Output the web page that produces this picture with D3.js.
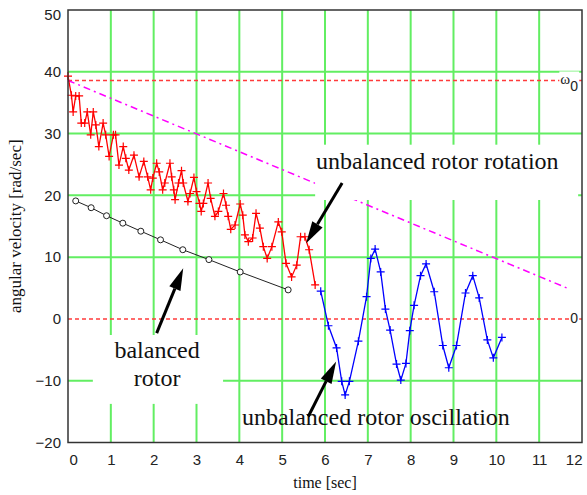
<!DOCTYPE html>
<html>
<head>
<meta charset="utf-8">
<script src="https://cdn.jsdelivr.net/npm/d3@7"></script>
<style>
  body { margin: 0; background: #fff; }
  svg { display: block; }
</style>
</head>
<body>
<script>
const width = 587,
  height = 495;
const margin = { top: 10, right: 5, bottom: 52.5, left: 68 };

// tick values
const xTicks = [0, 1, 2, 3, 4, 5, 6, 7, 8, 9, 10, 11, 12];
const yTicks = [-20, -10, 0, 10, 20, 30, 40, 50];
const yGrid = [-10, 10, 20, 30, 40];

// balanced rotor
const balT = [0.18, 0.54, 0.9, 1.28, 1.7, 2.16, 2.68, 3.29, 4.02, 5.14];
const balV = [19.1, 18.0, 16.7, 15.5, 14.2, 12.8, 11.2, 9.6, 7.6, 4.7];

// unbalanced rotor, rotation phase
const rotT = [0.0, 0.08, 0.12, 0.18, 0.26, 0.31, 0.39, 0.45, 0.53, 0.59, 0.65, 0.72,
  0.82, 0.88, 0.96, 1.06, 1.11, 1.19, 1.29, 1.35, 1.42, 1.54, 1.66, 1.77, 1.86, 1.93,
  1.98, 2.07, 2.13, 2.21, 2.26, 2.38, 2.42, 2.47, 2.5, 2.58, 2.65, 2.69, 2.8, 2.85,
  2.94, 3.0, 3.07, 3.11, 3.16, 3.27, 3.33, 3.43, 3.51, 3.63, 3.69, 3.74, 3.8, 3.9,
  4.02, 4.08, 4.13, 4.21, 4.31, 4.39, 4.48, 4.56, 4.65, 4.76, 4.91, 4.99, 5.09, 5.22,
  5.34, 5.43, 5.53, 5.63, 5.77];
const rotV = [39.3, 36.2, 33.5, 36.1, 36.1, 31.7, 31.7, 33.5, 29.8, 33.5, 31.4, 27.9,
  31.7, 29.8, 26.3, 29.8, 29.8, 24.9, 27.9, 26.0, 24.1, 26.5, 23.0, 25.5, 23.0, 20.9,
  22.8, 25.2, 23.8, 20.9, 22.0, 25.2, 23.0, 20.9, 19.3, 22.0, 24.0, 22.0, 19.0, 20.3,
  22.9, 20.6, 18.7, 17.4, 18.7, 22.0, 19.5, 16.6, 17.4, 20.3, 18.4, 16.6, 14.5, 15.2,
  18.6, 16.8, 13.6, 12.5, 13.1, 17.1, 14.7, 11.7, 9.8, 11.7, 15.7, 14.1, 9.0, 6.8,
  8.7, 13.3, 13.3, 11.2, 5.5];

// unbalanced rotor, oscillation phase
const oscT = [5.9, 6.08, 6.27, 6.39, 6.47, 6.57, 6.78, 6.97, 7.07, 7.17, 7.3, 7.41,
  7.52, 7.67, 7.77, 7.89, 7.98, 8.08, 8.23, 8.36, 8.55, 8.75, 8.89, 9.07, 9.28, 9.45,
  9.6, 9.79, 9.93, 10.13];
const oscV = [4.5, -1.1, -4.7, -10.1, -12.3, -10.1, -3.6, 3.6, 9.8, 11.3, 7.6, 1.6,
  -1.8, -7.3, -9.9, -7.2, -1.9, 2.2, 7.0, 8.9, 4.4, -4.3, -7.9, -4.3, 4.2, 7.0,
  3.4, -3.4, -6.3, -3.0];

// decay line and reference levels
const decayT = [0, 11.65];
const decayV = [38.6, 5.0];
const omega0 = 38.6;

const x = d3.scaleLinear().domain([0, 12]).range([margin.left, width - margin.right]);
const y = d3.scaleLinear().domain([-20, 50]).range([height - margin.bottom, margin.top]);

const svg = d3.select("body").append("svg")
  .attr("width", width)
  .attr("height", height);

// grid
svg.append("g").selectAll("line")
  .data(xTicks.slice(1, -1))
  .join("line")
  .attr("x1", d => x(d)).attr("x2", d => x(d))
  .attr("y1", y(50)).attr("y2", y(-20))
  .attr("stroke", "#62ee62").attr("stroke-width", 2);
svg.append("g").selectAll("line")
  .data(yGrid)
  .join("line")
  .attr("x1", x(0)).attr("x2", x(12))
  .attr("y1", d => y(d)).attr("y2", d => y(d))
  .attr("stroke", "#62ee62").attr("stroke-width", 2);

// red dashed levels
svg.append("g").selectAll("line")
  .data([omega0, 0])
  .join("line")
  .attr("x1", x(0)).attr("x2", x(12))
  .attr("y1", d => y(d)).attr("y2", d => y(d))
  .attr("stroke", "#ff3b3b").attr("stroke-width", 1.5)
  .attr("stroke-dasharray", "4,3");

// magenta decay line
svg.append("line")
  .attr("x1", x(decayT[0])).attr("y1", y(decayV[0]))
  .attr("x2", x(decayT[1])).attr("y2", y(decayV[1]))
  .attr("stroke", "#ff00ff").attr("stroke-width", 1.5)
  .attr("stroke-dasharray", "7,4,2,4");

const line = d3.line().x(d => x(d[0])).y(d => y(d[1]));
const plus = "M-4,0H4M0,-4V4";

// balanced rotor
const bal = balT.map((t, i) => [t, balV[i]]);
svg.append("path").datum(bal)
  .attr("d", line).attr("fill", "none")
  .attr("stroke", "#222").attr("stroke-width", 1);
svg.append("g").selectAll("circle")
  .data(bal)
  .join("circle")
  .attr("cx", d => x(d[0])).attr("cy", d => y(d[1]))
  .attr("r", 3).attr("fill", "#fff")
  .attr("stroke", "#222").attr("stroke-width", 1);

// unbalanced series
function series(ts, vs, color) {
  const pts = ts.map((t, i) => [t, vs[i]]);
  svg.append("path").datum(pts)
    .attr("d", line).attr("fill", "none")
    .attr("stroke", color).attr("stroke-width", 1.3);
  svg.append("g").selectAll("path")
    .data(pts)
    .join("path")
    .attr("d", plus)
    .attr("transform", d => `translate(${x(d[0])},${y(d[1])})`)
    .attr("stroke", color).attr("stroke-width", 1.2);
}
series(rotT, rotV, "#ff0000");
series(oscT, oscV, "#0000ff");

// annotation boxes and text
const notes = [
  { lines: ["unbalanced rotor rotation"], t: 5.79, v: 24.27, anchor: "start", box: [5.77, 11.91, 28.2, 19.25] },
  { lines: ["balanced", "rotor"], t: 2.08, v: -6.3, anchor: "middle", box: [0.58, 3.62, -2.6, -13.75] },
  { lines: ["unbalanced rotor oscillation"], t: 4.06, v: -17.15, anchor: "start" }
];
notes.forEach(n => {
  if (n.box) {
    svg.append("rect")
      .attr("x", x(n.box[0])).attr("y", y(n.box[2]))
      .attr("width", x(n.box[1]) - x(n.box[0]))
      .attr("height", y(n.box[3]) - y(n.box[2]))
      .attr("fill", "#fff");
  }
  const txt = svg.append("text")
    .attr("x", x(n.t)).attr("y", y(n.v))
    .attr("text-anchor", n.anchor)
    .attr("font-family", "Liberation Serif, Times New Roman, serif")
    .attr("font-size", 24)
    .attr("fill", "#111");
  n.lines.forEach((s, i) => {
    txt.append("tspan").attr("x", x(n.t)).attr("dy", i ? 28 : 0).text(s);
  });
});

// arrows
const arrows = [
  { from: [6.4, 22.0], to: [5.56, 12.25] },
  { from: [2.07, -2.3], to: [2.69, 8.2] },
  { from: [5.61, -15.8], to: [6.26, -6.9] }
];
arrows.forEach(a => {
  const x1 = x(a.from[0]), y1 = y(a.from[1]), x2 = x(a.to[0]), y2 = y(a.to[1]);
  const ang = Math.atan2(y2 - y1, x2 - x1);
  const len = 22, hw = 6;
  const bx = x2 - len * Math.cos(ang), by = y2 - len * Math.sin(ang);
  svg.append("line")
    .attr("x1", x1).attr("y1", y1).attr("x2", bx).attr("y2", by)
    .attr("stroke", "#000").attr("stroke-width", 3);
  svg.append("path")
    .attr("d", `M${x2},${y2}L${bx - hw * Math.sin(ang)},${by + hw * Math.cos(ang)}L${bx + hw * Math.sin(ang)},${by - hw * Math.cos(ang)}Z`)
    .attr("fill", "#000");
});

// level labels at right
function levelLabel(v, main, sub, dy) {
  const g = svg.append("g");
  const t = g.append("text")
    .attr("x", x(12) - 4).attr("y", y(v) + dy)
    .attr("text-anchor", "end")
    .attr("font-family", "Liberation Sans, Arial, sans-serif")
    .attr("font-size", 14).attr("fill", "#222");
  if (main) t.append("tspan").attr("font-family", "Liberation Serif, serif").attr("font-size", 15).text(main);
  t.append("tspan").attr("dy", main ? 7 : 0).text(sub);
  const bb = t.node().getBBox();
  g.insert("rect", "text")
    .attr("x", bb.x - 1).attr("y", bb.y).attr("width", bb.width + 2).attr("height", bb.height)
    .attr("fill", "#fff");
}
levelLabel(omega0, "ω", "0", 4);
levelLabel(0, null, "0", 4);

// frame
svg.append("rect")
  .attr("x", x(0)).attr("y", y(50))
  .attr("width", x(12) - x(0)).attr("height", y(-20) - y(50))
  .attr("fill", "none").attr("stroke", "#333").attr("stroke-width", 1.5);

// axes
const xAxis = svg.append("g")
  .attr("transform", `translate(0,${y(-20)})`)
  .call(d3.axisBottom(x).tickValues(xTicks).tickSize(0).tickPadding(12));
xAxis.select(".domain").remove();
xAxis.selectAll("text")
  .attr("font-family", "Liberation Sans, Arial, sans-serif")
  .attr("font-size", 15).attr("fill", "#222")
  .attr("text-anchor", d => d === 0 ? "start" : d === 12 ? "end" : "middle")
  .attr("dx", d => d === 0 ? 1 : 0);

const yAxis = svg.append("g")
  .attr("transform", `translate(${x(0)},0)`)
  .call(d3.axisLeft(y).tickValues(yTicks).tickSize(0).tickPadding(7));
yAxis.select(".domain").remove();
yAxis.selectAll("text")
  .attr("font-family", "Liberation Sans, Arial, sans-serif")
  .attr("font-size", 15).attr("fill", "#222")
  .attr("dy", d => d === 50 ? "0.6em" : "0.32em");

svg.append("text")
  .attr("x", x(6)).attr("y", 488)
  .attr("text-anchor", "middle")
  .attr("font-family", "Liberation Serif, Times New Roman, serif")
  .attr("font-size", 16).attr("fill", "#111")
  .text("time [sec]");

svg.append("text")
  .attr("transform", `translate(21,${y(15)}) rotate(-90)`)
  .attr("text-anchor", "middle")
  .attr("font-family", "Liberation Serif, Times New Roman, serif")
  .attr("font-size", 17).attr("fill", "#111")
  .text("angular velocity [rad/sec]");
</script>
</body>
</html>
